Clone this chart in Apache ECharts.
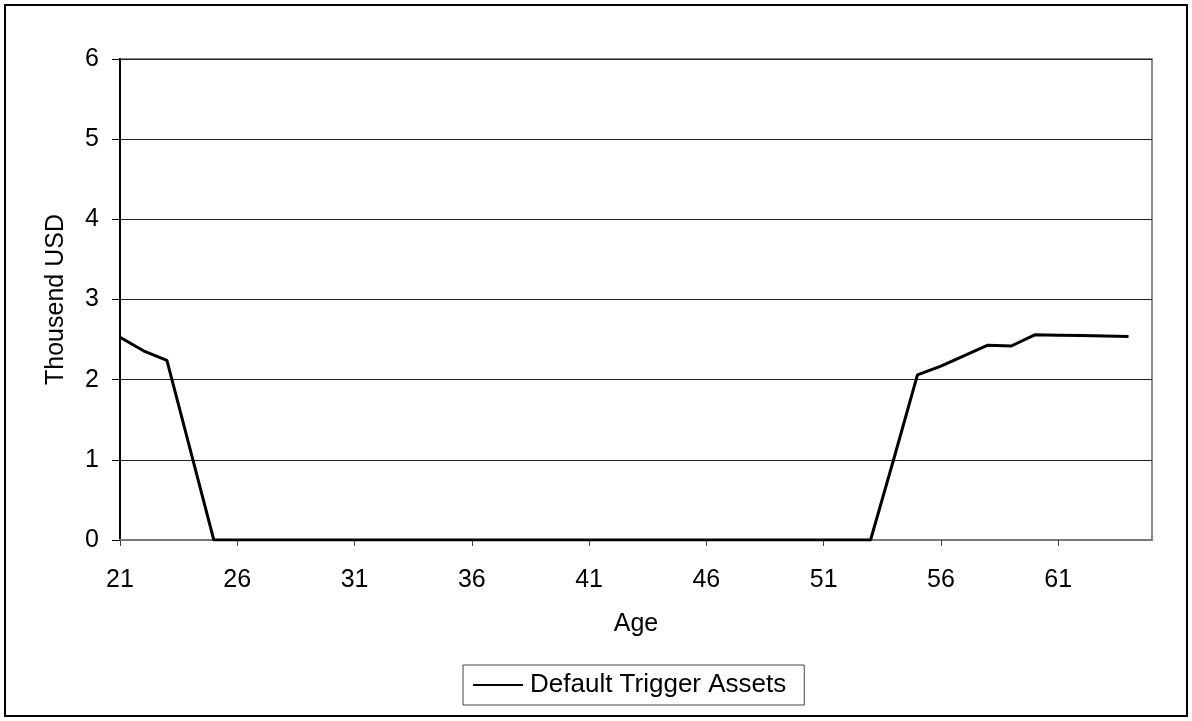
<!DOCTYPE html>
<html>
<head>
<meta charset="utf-8">
<script src="https://cdn.jsdelivr.net/npm/echarts@6/dist/echarts.min.js"></script>
<style>
  html, body { margin: 0; padding: 0; background: #fff; }
  #chart { width: 1192px; height: 721px; }
</style>
</head>
<body>
<div id="chart"></div>
<script>
// Ages on the category axis (last age has no recorded value)
const ages = [];
for (let a = 21; a <= 65; a++) ages.push(String(a));

// Default trigger assets by age, thousand USD
const earlyAssets = [2.53, 2.36, 2.24, 1.12, 0];          // ages 21-25
const middleAssets = new Array(27).fill(0);               // ages 26-52
const lateAssets = [0, 1.02, 2.06, 2.17, 2.30, 2.43, 2.42, 2.56, 2.555, 2.55, 2.545, 2.54, null]; // ages 53-65
const triggerAssets = earlyAssets.concat(middleAssets, lateAssets);

const yTicks = { min: 0, max: 6, interval: 1 };
const FONT = 'Liberation Sans, Arial, sans-serif';
const FS = 25;

const chart = echarts.init(document.getElementById('chart'), null, { renderer: 'canvas' });
chart.setOption({
  backgroundColor: '#fff',
  animation: false,
  textStyle: { fontFamily: FONT, color: '#000' },
  graphic: [{
    type: 'rect',
    shape: { x: 5, y: 5, width: 1182, height: 711 },
    style: { fill: 'none', stroke: '#000', lineWidth: 2 },
    silent: true
  }],
  grid: {
    left: 120, top: 59, right: 40, bottom: 181,
    show: true, borderColor: '#8c8c8c', borderWidth: 2, backgroundColor: 'transparent'
  },
  legend: {
    left: 463, top: 665,
    padding: [7, 18, 7, 10],
    borderColor: '#444', borderWidth: 1,
    itemWidth: 50, itemHeight: 2, itemGap: 5,
    icon: 'rect',
    textStyle: { fontFamily: FONT, fontSize: 26, color: '#000', padding: [0, 0, 0, 2] },
    data: ['Default Trigger Assets']
  },
  xAxis: {
    type: 'category',
    data: ages,
    boundaryGap: false,
    name: 'Age',
    nameLocation: 'middle',
    nameGap: 72,
    nameTextStyle: { fontFamily: FONT, fontSize: FS, color: '#000' },
    axisLine: { show: true, lineStyle: { color: '#7a7a7a', width: 2 } },
    axisTick: { show: true, interval: 4, length: 6, lineStyle: { color: '#444', width: 1 } },
    axisLabel: { interval: 4, margin: 28, fontSize: FS, fontFamily: FONT, color: '#000' },
    splitLine: { show: false }
  },
  yAxis: {
    type: 'value',
    min: yTicks.min, max: yTicks.max, interval: yTicks.interval,
    name: 'Thousend USD',
    nameLocation: 'middle',
    nameGap: 51,
    nameTextStyle: { fontFamily: FONT, fontSize: FS, color: '#000' },
    axisLine: { show: true, lineStyle: { color: '#000', width: 2 } },
    axisTick: { show: true, length: 8, lineStyle: { color: '#000', width: 1 } },
    axisLabel: { margin: 21, fontSize: FS, fontFamily: FONT, color: '#000' },
    splitLine: { show: true, lineStyle: { color: '#222', width: 1 } }
  },
  series: [{
    name: 'Default Trigger Assets',
    type: 'line',
    data: triggerAssets,
    symbol: 'none',
    connectNulls: false,
    lineStyle: { color: '#000', width: 3 },
    itemStyle: { color: '#000' },
    z: 5
  }]
});
</script>
</body>
</html>
